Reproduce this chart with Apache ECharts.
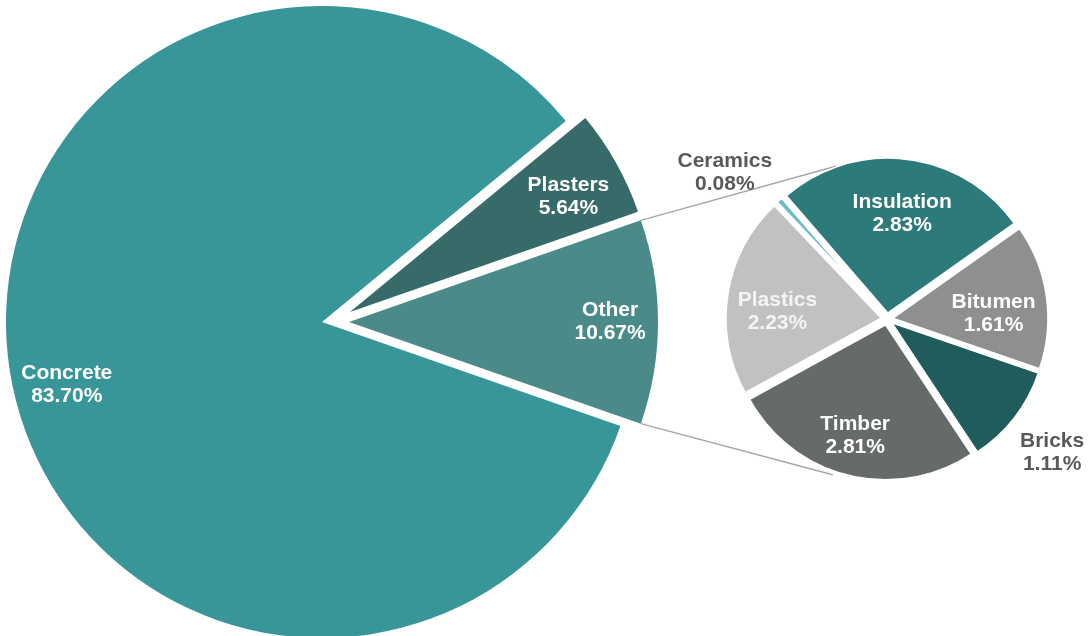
<!DOCTYPE html>
<html>
<head>
<meta charset="utf-8">
<script src="https://cdn.jsdelivr.net/npm/echarts@6/dist/echarts.min.js"></script>
<style>
html,body{margin:0;padding:0;background:#fff;}
#chart{width:1091px;height:636px;}
</style>
</head>
<body>
<div id="chart"></div>
<script>
// ---- data ----
const MAIN_NAMES = ['Plasters', 'Other', 'Concrete'];
const MAIN_VALUES = [5.64, 10.67, 83.70];
const SUB_NAMES = ['Ceramics', 'Insulation', 'Bitumen', 'Bricks', 'Timber', 'Plastics'];
const SUB_VALUES = [0.08, 2.83, 1.61, 1.11, 2.81, 2.23];

// ---- styles / layout ----
const MAIN_COLORS = ['#366b6a', '#4a8b8a', '#389698'];
const SUB_COLORS = ['#6bbcc4', '#2d7a7b', '#8d908f', '#215c5d', '#666a69', '#c0c1c0'];
const MAIN_GEOM = [ {cx: 350, cy: 312, r: 305}, {cx: 349, cy: 322, r: 309}, {cx: 322, cy: 322, r: 316} ];
const MAIN_LABEL = [ [0.81, -1.5], [0.845, 0], [0.832, 3.75] ];
const SUB_GEOM = {cx: 887, cy: 319, r: 155, explode: 6};
const SUB_LABEL = [ [1.37, 6], [0.65, -1.3], [0.65, -5.8], [1.33, -1.2], [0.74, -1.5], [0.67, 5.5] ];
const SUB_LABEL_COLORS = ['#595959', '#fff', '#fff', '#595959', '#fff', '#f4f4f4'];
const SUB_START = 133.5;
const CONNECT = [ [108.2, 161], [-109.2, 165] ];
const FONT = {fontFamily: '"Liberation Sans", Arial, sans-serif', fontWeight: 'bold', fontSize: 21, lineHeight: 23};

const sum = a => a.reduce((s, v) => s + v, 0);
const rad = d => d * Math.PI / 180;
function angles(values, start) {
  const tot = sum(values); let cur = start; const out = [];
  values.forEach(v => { const a0 = cur, a1 = cur - v / tot * 360; out.push({a0, a1, mid: (a0 + a1) / 2}); cur = a1; });
  return out;
}
const mainTot = sum(MAIN_VALUES);
const MAIN_START = (MAIN_VALUES[1] / mainTot * 360) / 2 + MAIN_VALUES[0] / mainTot * 360;
const mainAng = angles(MAIN_VALUES, MAIN_START);
const subAng = angles(SUB_VALUES, SUB_START);

const fmt = p => p.name + '\n' + Number(p.value).toFixed(2) + '%';
const CLEAR = 'rgba(0,0,0,0)';

const series = [];
// main pie: one series per slice, so each slice keeps its own centre and radius
MAIN_NAMES.forEach((own, k) => {
  const g = MAIN_GEOM[k];
  series.push({
    type: 'pie', center: [g.cx, g.cy], radius: g.r, startAngle: MAIN_START, clockwise: true,
    avoidLabelOverlap: false, silent: true, animation: false, z: 2,
    label: Object.assign({show: true, position: 'inside', color: '#fff', formatter: fmt}, FONT),
    labelLine: {show: false},
    emphasis: {disabled: true},
    labelLayout: (p) => {
      const [f, t] = MAIN_LABEL[k]; const m = rad(mainAng[k].mid + t);
      return {x: g.cx + f * g.r * Math.cos(m), y: g.cy - f * g.r * Math.sin(m)};
    },
    data: MAIN_NAMES.map((n, i) => i === k
      ? {name: n, value: MAIN_VALUES[i], itemStyle: {color: MAIN_COLORS[i]}}
      : {name: n, value: MAIN_VALUES[i], itemStyle: {color: CLEAR}, label: {show: false}})
  });
});
// secondary pie (exploded sectors, labels drawn by a carrier series below)
series.push({
  type: 'pie', center: [SUB_GEOM.cx, SUB_GEOM.cy], radius: SUB_GEOM.r, startAngle: SUB_START, clockwise: true,
  selectedMode: 'multiple', selectedOffset: SUB_GEOM.explode,
  avoidLabelOverlap: false, animation: false, silent: true, z: 2,
  label: {show: false}, labelLine: {show: false},
  emphasis: {disabled: true},
  itemStyle: {borderColor: '#fff', borderWidth: 1.5},
  data: SUB_NAMES.map((n, i) => ({
    name: n, value: SUB_VALUES[i], selected: true,
    itemStyle: {color: SUB_COLORS[i], borderWidth: i === 0 ? 3 : 1.5}
  }))
});
// label carrier for the secondary pie
series.push({
  type: 'pie', center: [SUB_GEOM.cx, SUB_GEOM.cy], radius: SUB_GEOM.r, startAngle: SUB_START, clockwise: true,
  avoidLabelOverlap: false, animation: false, silent: true, z: 3,
  label: Object.assign({show: true, position: 'inside', formatter: fmt}, FONT),
  labelLine: {show: false},
  emphasis: {disabled: true},
  itemStyle: {color: CLEAR, borderWidth: 0},
  labelLayout: (p) => {
    const i = p.dataIndex; const [f, t] = SUB_LABEL[i];
    const mid = rad(subAng[i].mid), m = rad(subAng[i].mid + t);
    return {
      x: SUB_GEOM.cx + SUB_GEOM.explode * Math.cos(mid) + f * SUB_GEOM.r * Math.cos(m),
      y: SUB_GEOM.cy - SUB_GEOM.explode * Math.sin(mid) - f * SUB_GEOM.r * Math.sin(m)
    };
  },
  data: SUB_NAMES.map((n, i) => ({name: n, value: SUB_VALUES[i], label: {color: SUB_LABEL_COLORS[i]}}))
});

// connector lines from the "Other" slice corners to the secondary pie
const og = MAIN_GEOM[1], oa = mainAng[1];
const lines = [oa.a0, oa.a1].map((a, j) => {
  const [b, rr] = CONNECT[j];
  return {
    type: 'line', z: 0, silent: true,
    shape: {
      x1: og.cx + og.r * Math.cos(rad(a)), y1: og.cy - og.r * Math.sin(rad(a)),
      x2: SUB_GEOM.cx + rr * Math.cos(rad(b)), y2: SUB_GEOM.cy - rr * Math.sin(rad(b))
    },
    style: {stroke: '#a6a6a6', lineWidth: 1.5}
  };
});

const chart = echarts.init(document.getElementById('chart'), null, {renderer: 'canvas'});
chart.setOption({
  animation: false,
  backgroundColor: '#fff',
  graphic: lines,
  series: series
});
</script>
</body>
</html>
